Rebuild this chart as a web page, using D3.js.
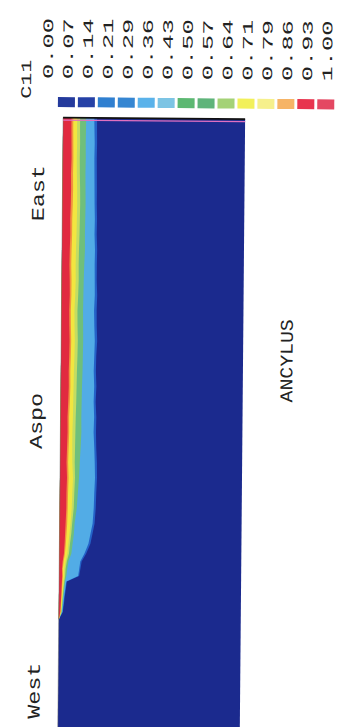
<!DOCTYPE html>
<html>
<head>
<meta charset="utf-8">
<script src="https://cdn.jsdelivr.net/npm/d3@7"></script>
<style>
  html, body { margin: 0; padding: 0; background: #ffffff; }
  svg { display: block; }
</style>
</head>
<body>
<svg id="chart" width="339" height="727"></svg>
<script>
// C11 class limits shown in the legend
const levelLabels = ["0.00","0.07","0.14","0.21","0.29","0.36","0.43","0.50",
                     "0.57","0.64","0.71","0.79","0.86","0.93","1.00"];
// fill for each class (0.00-0.07 ... 0.93-1.00)
const levelColors = ["#243a9c","#2541a6","#2f7fd0","#3586d2","#5ab2ea","#7cc4e4","#5cb872",
                     "#5fb47a","#a4d276","#f2f05a","#f6f08c","#f6b466","#e8344e","#e44862"];

// stations along the section, km from the western end
const stationKm = [21, 22.5, 24, 25.5, 27, 28.5, 29.6, 31, 32.5, 34, 36, 38, 40, 43, 46, 49, 52, 55, 58, 61,
                   64, 67, 70, 73, 76, 79, 82, 85, 88, 91, 94, 97, 100, 103, 106, 109, 112, 115, 118, 120];
// depth (m) of each C11 isoline below the surface at every station
const iso086 = [0,0.7,0.9,1.1,1.2,1.4,1.5,1.4,1.7,2.3,2.6,2.8,3.0,3.3,3.3,3.5,3.2,3.4,3.6,3.5,
                3.8,4.0,3.9,4.1,4.2,4.0,3.9,4.1,4.0,3.8,3.9,4.1,4.0,4.2,4.3,4.2,4.4,4.3,4.2,4.2];
const iso079 = [0,0.9,1.1,1.3,1.5,1.7,1.9,1.8,2.2,2.8,3.2,3.5,3.8,4.0,4.1,4.3,4.0,4.2,4.4,4.3,
                4.6,4.8,4.7,4.9,5.0,4.8,4.7,4.9,4.9,4.7,4.8,5.0,5.0,5.2,5.3,5.2,5.3,5.2,5.1,5.1];
const iso064 = [0,1.1,1.4,1.6,1.9,2.2,2.5,2.6,3.2,4.0,4.5,5.0,5.5,6.0,6.2,6.5,6.1,6.0,6.0,6.2,
                6.3,6.4,6.5,6.7,6.8,6.6,6.5,6.8,7.0,6.9,7.0,7.2,7.3,7.4,7.3,7.1,7.0,7.1,7.0,7.0];
const iso057 = [0,1.3,1.6,1.9,2.2,2.6,3.0,3.2,3.8,4.8,5.3,5.9,6.3,7.0,7.2,7.5,7.3,7.4,7.5,7.6,
                7.8,7.9,8.0,8.2,8.3,8.1,8.0,8.3,8.5,8.4,8.5,8.7,8.8,8.9,8.8,8.6,8.5,8.6,8.5,8.5];
const iso043 = [0,1.5,1.9,2.2,2.6,3.0,3.6,4.0,4.6,6.0,6.6,7.2,7.5,8.5,9.0,9.5,9.8,10.2,10.5,10.4,
                10.5,10.6,10.8,10.9,11.0,10.9,10.8,10.9,11.0,11.2,11.5,11.4,11.5,11.6,11.5,11.4,11.5,11.4,11.5,11.5];
const iso029 = [0,1.8,2.2,2.6,3.1,3.6,9.5,10.0,10.5,12.5,14.5,15.5,16.5,17.0,17.2,17.5,17.3,17.0,16.6,16.8,
                16.5,16.7,16.4,16.6,16.8,16.5,16.3,16.6,16.5,16.4,16.5,16.2,16.3,16.1,16.0,15.9,15.8,15.9,15.7,15.6];
const iso014 = [0,2.0,2.5,2.9,3.4,3.9,10.0,10.6,11.2,13.4,15.5,16.5,17.5,18.0,18.2,18.5,18.4,18.0,17.8,17.9,
                17.5,17.8,17.5,17.6,18.0,17.7,17.6,17.8,17.5,17.5,17.6,17.3,17.4,17.2,17.2,17.1,17.0,17.1,17.0,17.0];

// place names along the section
const placeNames = ["West", "Aspo", "East"];
const placeKm = [1.4, 54.6, 99.5];
const basinName = "ANCYLUS";
const basinKm = 72.4;

const sectionKm = [0, 120];
const sectionDepth = [0, 91];

// ---------------------------------------------------------------
const W = 727, H = 339;            // drawing frame (section laid out left→right)
const svg = d3.select("#chart");
const page = svg.append("g").attr("transform", "rotate(0.5,170,420)");
const frame = page.append("g").attr("transform", `translate(0,${W}) rotate(-90)`);

const x = d3.scaleLinear().domain(sectionKm).range([0, 608.5]);
const y = d3.scaleLinear().domain(sectionDepth).range([60.5, 242.5]);

// background: lowest class
frame.append("rect")
  .attr("x", x(-5)).attr("y", y(0))
  .attr("width", x(sectionKm[1]) - x(-5))
  .attr("height", y(sectionDepth[1]) - y(0))
  .attr("fill", "#1b2a8e");

// isolines from deepest to shallowest, each filled up to the surface
const bands = [
  { depth: iso014, color: "#2462c8" },
  { depth: iso029, color: "#52ace6" },
  { depth: iso043, color: "#6fbf7c" },
  { depth: iso057, color: "#c4dc62" },
  { depth: iso064, color: "#f2e640" },
  { depth: iso079, color: "#f2923f" },
  { depth: iso086, color: "#e12a40" }
];
const area = d3.area()
  .x((d, i) => x(stationKm[i]))
  .y0(() => y(0))
  .y1(d => y(d))
  .curve(d3.curveLinear);

frame.append("g").selectAll("path")
  .data(bands)
  .join("path")
  .attr("d", b => area(b.depth))
  .attr("fill", b => b.color);

// surface line
frame.append("line")
  .attr("x1", x(-5)).attr("x2", x(sectionKm[1]))
  .attr("y1", y(0)).attr("y2", y(0))
  .attr("stroke", "#666").attr("stroke-width", 0.8).attr("stroke-opacity", 0.6);

// eastern end of the section: frame line
frame.append("line")
  .attr("x1", x(sectionKm[1]) - 2.5).attr("x2", x(sectionKm[1]) - 2.5)
  .attr("y1", y(0)).attr("y2", y(sectionDepth[1]))
  .attr("stroke", "#e070c0").attr("stroke-width", 1.2);
frame.append("line")
  .attr("x1", x(sectionKm[1])).attr("x2", x(sectionKm[1]))
  .attr("y1", y(0)).attr("y2", y(sectionDepth[1]))
  .attr("stroke", "#111").attr("stroke-width", 1.8);

// place names above the section
const mono = "'Liberation Mono', 'DejaVu Sans Mono', monospace";
frame.append("g").selectAll("text")
  .data(placeNames)
  .join("text")
  .attr("transform", (d, i) => `translate(${x(placeKm[i])},42) scale(1.3,1)`)
  .attr("font-family", mono).attr("font-size", 18)
  .attr("fill", "#222")
  .text(d => d);

// basin name under the section
frame.append("text")
  .attr("transform", `translate(${x(basinKm)},292) scale(1.1,1)`)
  .attr("text-anchor", "middle")
  .attr("font-family", mono).attr("font-size", 18)
  .attr("fill", "#222")
  .text(basinName);

// legend
const lv = d3.scalePoint().domain(levelLabels).range([44.7, 324]);
const legend = frame.append("g");
legend.append("text")
  .attr("transform", `translate(627,28) scale(1.5,1)`)
  .attr("font-family", mono).attr("font-size", 14.5)
  .attr("fill", "#222")
  .text("C11");
legend.selectAll("text.lbl")
  .data(levelLabels)
  .join("text")
  .attr("class", "lbl")
  .attr("transform", d => `translate(647,${lv(d) + 5}) scale(1.75,1)`)
  .attr("font-family", mono).attr("font-size", 14.5)
  .attr("fill", "#222")
  .text(d => d);
legend.selectAll("rect")
  .data(levelColors)
  .join("rect")
  .attr("x", 619)
  .attr("y", (d, i) => lv(levelLabels[i + 1]) - 9.5)
  .attr("width", 10)
  .attr("height", 17)
  .attr("fill", d => d);
</script>
</body>
</html>
